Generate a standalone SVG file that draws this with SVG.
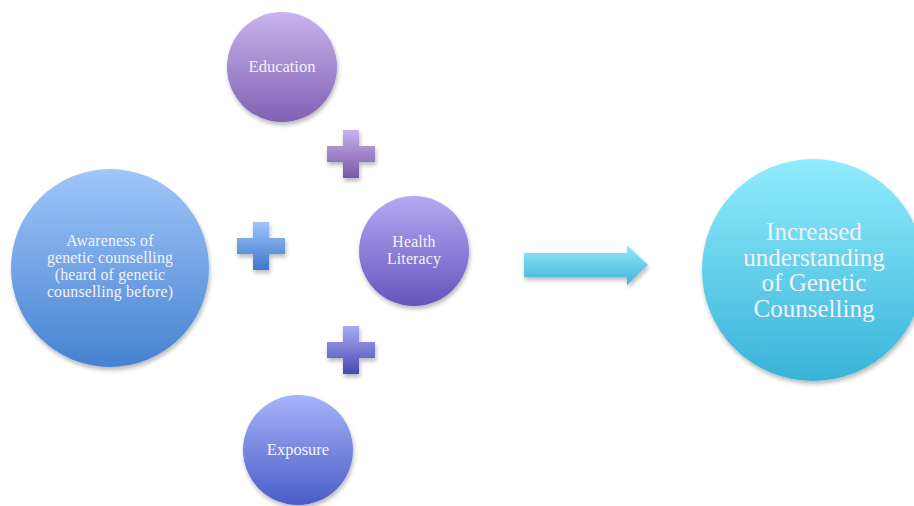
<svg xmlns="http://www.w3.org/2000/svg" width="914" height="506" viewBox="0 0 914 506">
  <defs>
    <filter id="shadow" x="-20%" y="-20%" width="140%" height="140%">
      <feDropShadow dx="1" dy="3" stdDeviation="2.2" flood-color="#000" flood-opacity="0.28"/>
    </filter>
    <linearGradient id="gBlue" x1="0" y1="0" x2="0" y2="1">
      <stop offset="0" stop-color="#a0c6fa"/>
      <stop offset="1" stop-color="#4682d0"/>
    </linearGradient>
    <linearGradient id="gPurple" x1="0" y1="0" x2="0" y2="1">
      <stop offset="0" stop-color="#c9b4ec"/>
      <stop offset="1" stop-color="#8060b4"/>
    </linearGradient>
    <linearGradient id="gViolet" x1="0" y1="0" x2="0" y2="1">
      <stop offset="0" stop-color="#b5a9f3"/>
      <stop offset="1" stop-color="#6654bd"/>
    </linearGradient>
    <linearGradient id="gIndigo" x1="0" y1="0" x2="0" y2="1">
      <stop offset="0" stop-color="#a6b4fa"/>
      <stop offset="1" stop-color="#4a5cc5"/>
    </linearGradient>
    <linearGradient id="gCyan" x1="0" y1="0" x2="0" y2="1">
      <stop offset="0" stop-color="#92ecfd"/>
      <stop offset="1" stop-color="#38b3d8"/>
    </linearGradient>
    <linearGradient id="gPlusPurple" x1="0" y1="0" x2="0" y2="1">
      <stop offset="0" stop-color="#c8b2ec"/>
      <stop offset="1" stop-color="#7a56a8"/>
    </linearGradient>
    <linearGradient id="gPlusBlue" x1="0" y1="0" x2="0" y2="1">
      <stop offset="0" stop-color="#9fc5fa"/>
      <stop offset="1" stop-color="#3c78cc"/>
    </linearGradient>
    <linearGradient id="gPlusIndigo" x1="0" y1="0" x2="0" y2="1">
      <stop offset="0" stop-color="#a9aaf7"/>
      <stop offset="1" stop-color="#4a48b2"/>
    </linearGradient>
    <linearGradient id="gArrow" x1="0" y1="0" x2="0" y2="1">
      <stop offset="0" stop-color="#92e8fa"/>
      <stop offset="1" stop-color="#42b4da"/>
    </linearGradient>
    <!-- plus sign centred on the origin -->
    <path id="plus" d="M-8,-24 H8 V-8 H24 V8 H8 V24 H-8 V8 H-24 V-8 H-8 Z"/>
  </defs>
  <style>
    .shape { filter: url(#shadow); }
    .label { font-family: "Liberation Serif", "DejaVu Serif", serif; fill: #f4f2fb; text-anchor: middle; }
    .small { font-size: 16.5px; }
    .tight { font-size: 15.8px; letter-spacing: 0.2px; }
    .big { font-size: 25px; }
  </style>

  <rect width="914" height="506" fill="#ffffff"/>

  <g id="node-awareness">
    <circle class="shape" cx="110" cy="268" r="99" fill="url(#gBlue)"/>
    <text class="label tight" x="110" y="246">Awareness of</text>
    <text class="label tight" x="110" y="263">genetic counselling</text>
    <text class="label tight" x="110" y="280">(heard of genetic</text>
    <text class="label tight" x="110" y="297">counselling before)</text>
  </g>

  <g id="node-education">
    <circle class="shape" cx="282" cy="67" r="55" fill="url(#gPurple)"/>
    <text class="label small" x="282" y="72">Education</text>
  </g>

  <g id="node-health-literacy">
    <circle class="shape" cx="414" cy="251" r="55" fill="url(#gViolet)"/>
    <text class="label tight" x="414" y="247">Health</text>
    <text class="label tight" x="414" y="264">Literacy</text>
  </g>

  <g id="node-exposure">
    <circle class="shape" cx="298" cy="450" r="55" fill="url(#gIndigo)"/>
    <text class="label small" x="298" y="455">Exposure</text>
  </g>

  <g id="node-outcome">
    <circle class="shape" cx="813" cy="270" r="111" fill="url(#gCyan)"/>
    <text class="label big" x="814" y="240">Increased</text>
    <text class="label big" x="814" y="265.5">understanding</text>
    <text class="label big" x="814" y="291">of Genetic</text>
    <text class="label big" x="814" y="316.5">Counselling</text>
  </g>

  <g id="connectors">
    <use class="shape" href="#plus" transform="translate(351,154)" fill="url(#gPlusPurple)"/>
    <use class="shape" href="#plus" transform="translate(261,246)" fill="url(#gPlusBlue)"/>
    <use class="shape" href="#plus" transform="translate(351,350)" fill="url(#gPlusIndigo)"/>
    <path class="shape" d="M524,253 H627 V245 L648,265 L627,285 V277 H524 Z" fill="url(#gArrow)"/>
  </g>
</svg>
